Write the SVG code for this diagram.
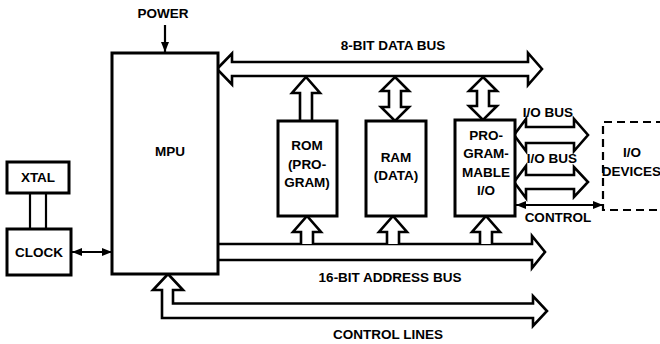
<svg xmlns="http://www.w3.org/2000/svg" width="660" height="344" viewBox="0 0 660 344">
<defs>
<marker id="ah" viewBox="0 0 10 8" refX="10" refY="4" markerWidth="10" markerHeight="8" markerUnits="userSpaceOnUse" orient="auto-start-reverse">
<path d="M0,0 L10,4 L0,8 Z" fill="#000"/>
</marker>
<style>
.box{fill:#fff;stroke:#000;stroke-width:3}
.dash{fill:none;stroke:#000;stroke-width:2.2;stroke-dasharray:8 5}
.bus{fill:#fff;stroke:#000;stroke-width:2.6;stroke-linejoin:miter}
.ln{fill:none;stroke:#000;stroke-width:2.2}
text{font-family:"Liberation Sans",Arial,sans-serif;font-weight:bold;font-size:13.5px;fill:#000;text-anchor:middle}
</style>
</defs>
<rect width="660" height="344" fill="#fff"/>

<g id="connectors">
<line class="ln" x1="165" y1="25" x2="165" y2="52" marker-end="url(#ah)"/>
<path class="bus" d="M217,69 L232,53.5 V62 H528 V53 L542,69 L528,85 V76 H232 V84.5 Z"/>
<polyline class="bus" points="300,120 300,93 292,93 306,77 320,93 312,93 312,120"/>
<polygon class="bus" points="395,77 409,91 401,91 401,107 409,107 395,121 381,107 389,107 389,91 381,91"/>
<polygon class="bus" points="483,77 497,91 489,91 489,106 497,106 483,120 469,106 477,106 477,91 469,91"/>
<path class="bus" d="M218,244 H532 V236 L545,252 L532,268 V260 H218"/>
<polyline class="bus" points="301,244 301,232 293,232 307,216 321,232 313,232 313,244"/>
<polyline class="bus" points="387,244 387,232 379,232 393,216 407,232 399,232 399,244"/>
<polyline class="bus" points="480,244 480,232 472,232 486,216 500,232 492,232 492,244"/>
<path class="bus" d="M168,274 L183,290 H173 V303.5 H533 V296 L547,311 L533,326 V318 H162 V290 H153 Z"/>
<path class="bus" d="M514,135 L526,119 V127 H574 V119 L588,135 L574,151 V143 H526 V151 Z"/>
<path class="bus" d="M514,182 L526,166 V175 H574 V167 L588,182 L574,197 V189 H526 V198 Z"/>
<line class="ln" x1="516" y1="205" x2="603" y2="205" marker-start="url(#ah)" marker-end="url(#ah)"/>
<line class="ln" x1="72" y1="252" x2="112" y2="252" marker-start="url(#ah)" marker-end="url(#ah)"/>
<line class="ln" x1="30" y1="193" x2="30" y2="229" stroke-width="2.6"/>
<line class="ln" x1="46" y1="193" x2="46" y2="229" stroke-width="2.6"/>
</g>

<g id="mpu">
<rect class="box" x="112" y="53" width="106" height="221"/>
<text x="170" y="156" font-size="15">MPU</text>
</g>
<g id="power-label"><text x="163" y="18">POWER</text></g>
<g id="rom">
<rect class="box" x="278" y="121" width="59" height="95"/>
<text x="307" y="150">ROM</text>
<text x="307" y="169">(PRO-</text>
<text x="307" y="187">GRAM)</text>
</g>
<g id="ram">
<rect class="box" x="366" y="121" width="60" height="95"/>
<text x="396" y="162">RAM</text>
<text x="396" y="180">(DATA)</text>
</g>
<g id="pio">
<rect class="box" x="455" y="120" width="60" height="96"/>
<text x="486" y="140">PRO-</text>
<text x="486" y="158">GRAM-</text>
<text x="486" y="177">MABLE</text>
<text x="486" y="195">I/O</text>
</g>
<g id="io-devices">
<path class="dash" d="M664,122 H603 V210 H664"/>
<text x="632" y="157">I/O</text>
<text x="631.5" y="176" font-size="13">DEVICES</text>
</g>
<g id="xtal">
<rect class="box" x="7" y="162" width="62" height="31"/>
<text x="38" y="182">XTAL</text>
</g>
<g id="clock">
<rect class="box" x="7" y="229" width="64" height="46"/>
<text x="39" y="257">CLOCK</text>
</g>
<g id="labels">
<text x="393" y="50">8-BIT DATA BUS</text>
<text x="390" y="282">16-BIT ADDRESS BUS</text>
<text x="388" y="339">CONTROL LINES</text>
<text x="548" y="117">I/O BUS</text>
<text x="552" y="163">I/O BUS</text>
<text x="558" y="222">CONTROL</text>
</g>
</svg>
